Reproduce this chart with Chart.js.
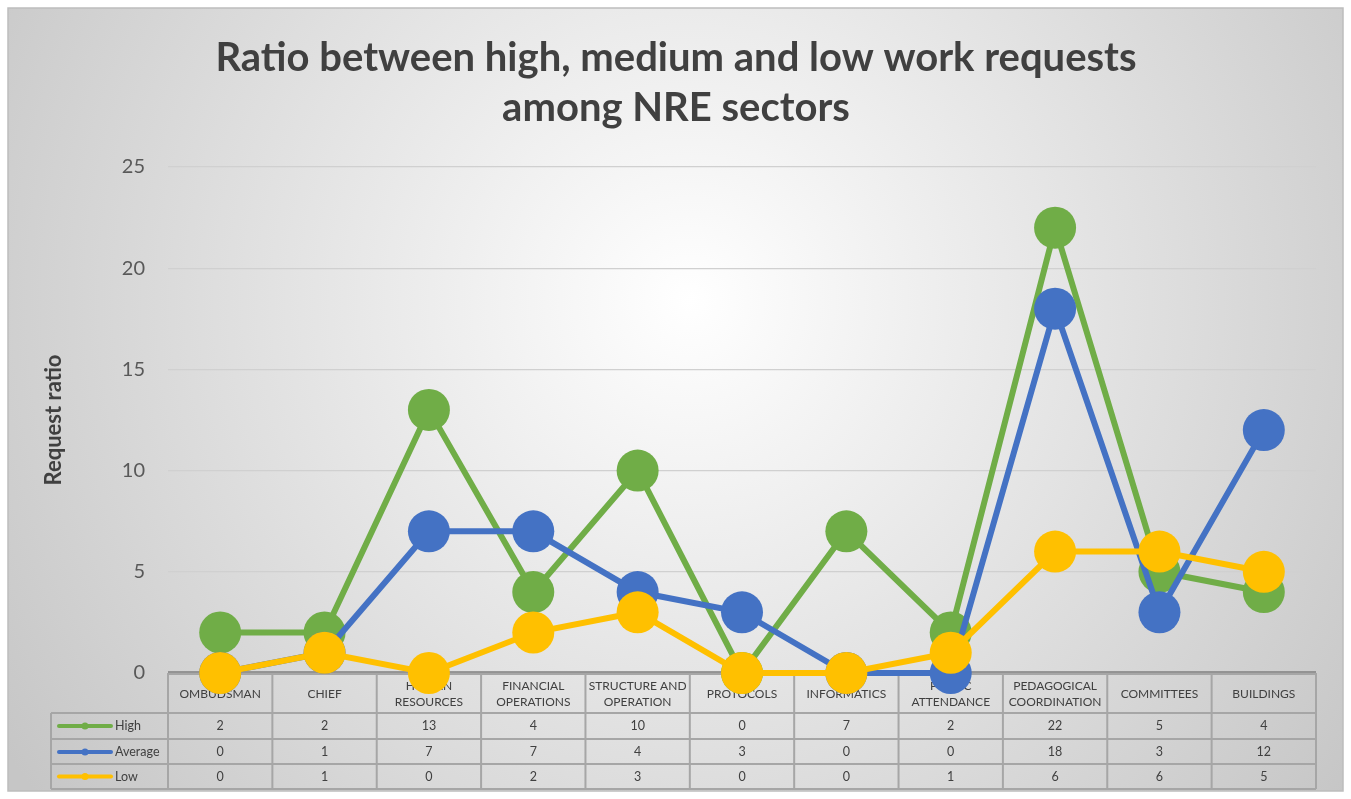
<!DOCTYPE html>
<html>
<head>
<meta charset="utf-8">
<script src="https://cdn.jsdelivr.net/npm/chart.js@4/dist/chart.umd.min.js"></script>
<style>
  html, body { margin: 0; padding: 0; background: #fff; }
  #wrap { width: 1351px; height: 799px; position: relative; }
</style>
</head>
<body>
<div id="wrap"><canvas id="chart"></canvas></div>
<script>
const categories = [
  ['OMBUDSMAN'], ['CHIEF'], ['HUMAN', 'RESOURCES'], ['FINANCIAL', 'OPERATIONS'],
  ['STRUCTURE AND', 'OPERATION'], ['PROTOCOLS'], ['INFORMATICS'], ['PUBLIC', 'ATTENDANCE'],
  ['PEDAGOGICAL', 'COORDINATION'], ['COMMITTEES'], ['BUILDINGS']
];
const highValues = [2, 2, 13, 4, 10, 0, 7, 2, 22, 5, 4];
const averageValues = [0, 1, 7, 7, 4, 3, 0, 0, 18, 3, 12];
const lowValues = [0, 1, 0, 2, 3, 0, 0, 1, 6, 6, 5];
const seriesNames = ['High', 'Average', 'Low'];
const seriesColors = ['#70ad47', '#4472c4', '#ffc000'];
const yTicks = [0, 5, 10, 15, 20, 25];
const titleLines = ['Ratio between high, medium and low work requests', 'among NRE sectors'];

const FONT = 'Lato, "Open Sans", sans-serif';
const seriesValues = [highValues, averageValues, lowValues];

// background, border and title
const backdrop = {
  id: 'backdrop',
  beforeDraw(chart) {
    const {ctx, width, height} = chart;
    ctx.save();
    ctx.fillStyle = '#ffffff';
    ctx.fillRect(0, 0, width, height);
    const g = ctx.createRadialGradient(690, 300, 0, 690, 300, 820);
    g.addColorStop(0, '#ffffff');
    g.addColorStop(1, '#c6c6c6');
    ctx.fillStyle = g;
    ctx.fillRect(8, 8, 1335, 783);
    ctx.strokeStyle = '#bdbdbd';
    ctx.lineWidth = 1.5;
    ctx.strokeRect(8, 8, 1335, 783);
    ctx.fillStyle = '#404040';
    ctx.font = 'bold 40px ' + FONT;
    ctx.textAlign = 'center';
    ctx.textBaseline = 'middle';
    ctx.fillText(titleLines[0], 676, 58);
    ctx.fillText(titleLines[1], 676, 108);
    ctx.restore();
  }
};

// data table under the plot, drawn before the lines so the markers sit over it
const dataTable = {
  id: 'dataTable',
  beforeDatasetsDraw(chart) {
    const {ctx, chartArea} = chart;
    const x = chart.scales.x;
    const n = categories.length;
    const colW = (chartArea.right - chartArea.left) / n;
    const top = chartArea.bottom;
    const rowsY = [top, 713, 739, 764, 789];
    const legendLeft = 51;
    ctx.save();
    ctx.strokeStyle = '#a6a6a6';
    ctx.lineWidth = 2;
    ctx.beginPath();
    ctx.moveTo(chartArea.left, rowsY[0] + 1);
    ctx.lineTo(chartArea.right, rowsY[0] + 1);
    for (let r = 1; r < rowsY.length; r++) {
      ctx.moveTo(legendLeft, rowsY[r]);
      ctx.lineTo(chartArea.right, rowsY[r]);
    }
    for (let i = 0; i <= n; i++) {
      const xx = chartArea.left + i * colW;
      ctx.moveTo(xx, rowsY[0]);
      ctx.lineTo(xx, rowsY[4]);
    }
    ctx.moveTo(legendLeft, rowsY[1]);
    ctx.lineTo(legendLeft, rowsY[4]);
    ctx.stroke();

    // axis line at zero
    ctx.strokeStyle = '#7f7f7f';
    ctx.lineWidth = 1.5;
    ctx.beginPath();
    ctx.moveTo(chartArea.left, top - 1);
    ctx.lineTo(chartArea.right, top - 1);
    ctx.stroke();

    ctx.fillStyle = '#404040';
    ctx.textAlign = 'center';
    ctx.textBaseline = 'middle';
    ctx.font = '12px ' + FONT;
    categories.forEach((lines, i) => {
      const cx = x.getPixelForValue(i);
      if (lines.length === 1) {
        ctx.fillText(lines[0], cx, 694);
      } else {
        ctx.fillText(lines[0], cx, 686);
        ctx.fillText(lines[1], cx, 702);
      }
    });
    ctx.font = '12.5px ' + FONT;
    const rowMid = [726, 752, 776.5];
    seriesValues.forEach((vals, r) => {
      vals.forEach((v, i) => {
        ctx.fillText(String(v), x.getPixelForValue(i), rowMid[r]);
      });
      // legend key
      ctx.strokeStyle = seriesColors[r];
      ctx.lineWidth = 4;
      ctx.lineCap = 'round';
      ctx.beginPath();
      ctx.moveTo(59, rowMid[r]);
      ctx.lineTo(111, rowMid[r]);
      ctx.stroke();
      ctx.fillStyle = seriesColors[r];
      ctx.beginPath();
      ctx.arc(85, rowMid[r], 3.5, 0, Math.PI * 2);
      ctx.fill();
      ctx.fillStyle = '#404040';
      ctx.textAlign = 'left';
      ctx.fillText(seriesNames[r], 115, rowMid[r]);
      ctx.textAlign = 'center';
    });
    ctx.restore();
  }
};

const datasets = seriesNames.map((name, k) => ({
  label: name,
  data: seriesValues[k],
  borderColor: seriesColors[k],
  backgroundColor: seriesColors[k],
  borderWidth: 6,
  pointRadius: 21,
  pointHoverRadius: 21,
  pointBorderWidth: 0,
  tension: 0,
  clip: false,
  order: 2 - k
}));

new Chart(document.getElementById('chart'), {
  type: 'line',
  data: {labels: categories.map(c => c.join(' ')), datasets},
  options: {
    responsive: true,
    maintainAspectRatio: false,
    animation: false,
    layout: {padding: {top: 167, bottom: 126, left: 0, right: 35}},
    plugins: {
      legend: {display: false},
      title: {display: false},
      tooltip: {enabled: false}
    },
    scales: {
      x: {
        offset: true,
        afterFit(scale) { scale.height = 0; },
        grid: {display: false},
        border: {display: false},
        ticks: {display: false}
      },
      y: {
        min: 0,
        max: 25,
        afterFit(scale) { scale.width = 168; },
        afterBuildTicks(scale) { scale.ticks = yTicks.map(v => ({value: v})); },
        grid: {color: '#d0d0d0', lineWidth: 1.2, drawTicks: false},
        border: {display: false},
        ticks: {
          color: '#595959',
          padding: 23,
          font: {family: FONT, size: 20}
        },
        title: {
          display: true,
          text: 'Request ratio',
          color: '#404040',
          font: {family: FONT, size: 22, weight: 'bold'},
          padding: {top: 41, bottom: 0}
        }
      }
    }
  },
  plugins: [backdrop, dataTable]
});
</script>
</body>
</html>
